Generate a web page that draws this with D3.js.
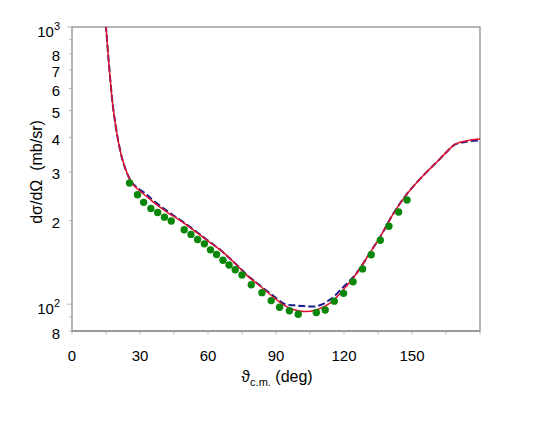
<!DOCTYPE html>
<html>
<head>
<meta charset="utf-8">
<script src="https://cdn.jsdelivr.net/npm/d3@7"></script>
<style>
  html, body { margin: 0; padding: 0; background: #fff; }
  text { font-family: "Liberation Sans", Arial, sans-serif; fill: #000; }
</style>
</head>
<body>
<svg id="chart" width="545" height="421"></svg>
<script>
// experimental points (deg, mb/sr)
const dataAngle = [25.4, 28.9, 31.6, 34.8, 37.8, 40.8, 43.8, 49.5, 52.5, 55.4, 58.4, 61.1, 63.8, 66.6, 69.3, 72.0, 75.0, 79.1, 83.8, 87.9, 91.6, 95.9, 99.8, 107.8, 111.7, 115.7, 119.8, 124.0, 128.2, 132.0, 136.0, 139.8, 144.1, 147.8]
const dataValue = [273.5, 248, 233, 221.5, 214, 206, 199.5, 185.5, 178.5, 171, 165, 157, 151, 144, 138.5, 133, 127.5, 117.5, 110, 103, 97.5, 94.6, 92, 93.3, 95.3, 102.5, 109.4, 120.4, 134, 150.7, 170, 191, 215, 237.5]

// red solid calculation
const solidAngle = [14.2, 15.0, 15.9, 16.9, 17.9, 19.1, 20.6, 22.3, 24.3, 26.5, 29.4, 33.1, 36.0, 41.9, 47.8, 53.6, 59.6, 65.4, 71.3, 77.2, 83.1, 88.9, 94.0, 98.0, 102.2, 108.1, 114.0, 119.8, 124.0, 127.2, 131.6, 136.0, 141.9, 147.8, 155.1, 161.0, 165.4, 169.1, 174.3, 180]
const solidValue = [1200, 1000, 804, 644, 530, 449, 380, 331, 297, 273, 258, 244, 233, 215, 200, 185, 170, 157, 142, 127, 116, 106, 98.5, 95.5, 94, 95.5, 101, 113, 124, 135, 154, 175, 213, 250, 292, 326, 355, 378, 389, 394]

// blue dashed calculation
const dashAngle = [14.2, 15.0, 15.9, 16.9, 17.9, 19.1, 20.6, 22.3, 24.3, 26.5, 29.4, 33.1, 36.0, 41.9, 47.8, 53.6, 59.6, 65.4, 71.3, 77.2, 83.1, 88.9, 94.0, 98.0, 102.2, 108.1, 114.0, 119.8, 124.0, 127.2, 131.6, 136.0, 141.9, 147.8, 155.1, 161.0, 165.4, 169.1, 174.3, 180]
const dashValue = [1200, 1000, 804, 644, 530, 449, 380, 331, 297, 274, 261, 248, 236, 217, 201, 186, 170.5, 157, 142, 127.5, 116.5, 107, 100, 99, 98.4, 98.4, 104, 115.5, 125, 135, 154, 175, 213, 250, 292, 326, 355, 377, 386, 390]

const xTicks = [0, 15, 30, 45, 60, 75, 90, 105, 120, 135, 150, 165, 180]
const xLabels = [0, 30, 60, 90, 120, 150]
const yTicks = [80, 90, 100, 200, 300, 400, 500, 600, 700, 800, 900, 1000]
const yLabels = [80, 100, 200, 300, 400, 500, 600, 700, 800, 1000]

const margin = { top: 27, left: 72 }
const W = 408, H = 304

const svg = d3.select('#chart')
const g = svg.append('g').attr('transform', `translate(${margin.left},${margin.top})`)

const x = d3.scaleLinear().domain([0, 180]).range([0, W])
const y = d3.scaleLog().domain([80, 1000]).range([H, 0])

svg.append('defs').append('clipPath').attr('id', 'clip')
  .append('rect').attr('width', W).attr('height', H)

// ticks
const tickCol = '#bbb'
g.selectAll('.xt').data(xTicks).enter().append('line')
  .attr('x1', d => x(d)).attr('x2', d => x(d))
  .attr('y1', H).attr('y2', H + 3.5)
  .attr('stroke', tickCol).attr('stroke-width', 1)
g.selectAll('.yt').data(yTicks).enter().append('line')
  .attr('x1', d => (d === 100 || d === 1000) ? -5 : -3).attr('x2', 0)
  .attr('y1', d => y(d)).attr('y2', d => y(d))
  .attr('stroke', tickCol).attr('stroke-width', 1)

// tick labels
g.selectAll('.xl').data(xLabels).enter().append('text')
  .attr('x', d => x(d)).attr('y', H + 29.5)
  .attr('text-anchor', 'middle').attr('font-size', 15)
  .text(d => d)

yLabels.forEach(d => {
  const decade = d === 100 || d === 1000
  const t = g.append('text')
    .attr('x', -12).attr('y', y(d) + (decade ? 10 : 7.5))
    .attr('text-anchor', 'end').attr('font-size', 15)
  if (decade) {
    t.append('tspan').text('10')
    t.append('tspan').attr('font-size', 11).attr('dy', -7).text(String(Math.log10(d)))
  } else {
    t.text(String(d).replace(/0+$/, ''))
  }
})

// frame
g.append('rect').attr('width', W).attr('height', H)
  .attr('fill', 'none').attr('stroke', '#8f8f8f').attr('stroke-width', 1.3)
g.append('line').attr('x1', 0).attr('x2', W).attr('y1', H).attr('y2', H)
  .attr('stroke', '#9a9a9a').attr('stroke-width', 2)

// curves
const plot = g.append('g').attr('clip-path', 'url(#clip)')
const line = d3.line()
  .x(d => x(d[0])).y(d => y(d[1]))
  .curve(d3.curveCatmullRom.alpha(0.5))

plot.append('path')
  .attr('d', line(d3.zip(dashAngle, dashValue)))
  .attr('fill', 'none').attr('stroke', '#1c1c8c').attr('stroke-width', 2)
  .attr('stroke-dasharray', '7,3')
plot.append('path')
  .attr('d', line(d3.zip(solidAngle, solidValue)))
  .attr('fill', 'none').attr('stroke', '#e0112b').attr('stroke-width', 1.5)

// points
plot.selectAll('circle').data(d3.zip(dataAngle, dataValue)).enter().append('circle')
  .attr('cx', d => x(d[0])).attr('cy', d => y(d[1])).attr('r', 3.7)
  .attr('fill', '#0a870a')

// axis titles
const xt = svg.append('text')
  .attr('x', margin.left + W / 2 + 1).attr('y', 382)
  .attr('text-anchor', 'middle').attr('font-size', 16)
xt.append('tspan').text('\u03D1')
xt.append('tspan').attr('font-size', 11).attr('dy', 4).text('c.m.')
xt.append('tspan').attr('dy', -4).text(' (deg)')

svg.append('text')
  .attr('transform', 'translate(41.5,172) rotate(-90)')
  .attr('text-anchor', 'middle').attr('font-size', 16)
  .style('white-space', 'pre')
  .text('d\u03C3/d\u03A9  (mb/sr)')
</script>
</body>
</html>
